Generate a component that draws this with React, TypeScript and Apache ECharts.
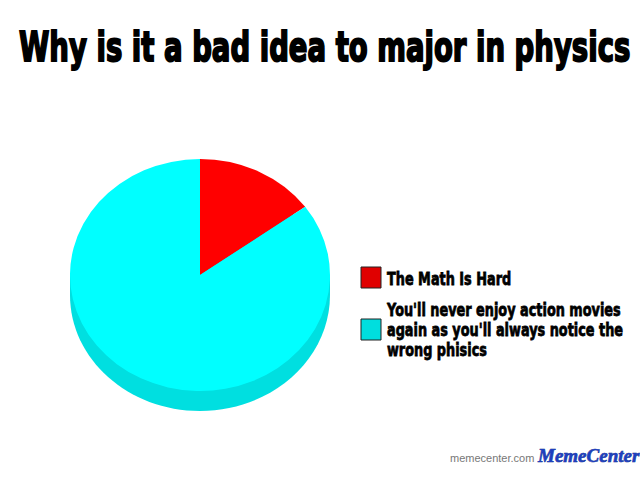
import React, { useEffect, useRef } from "react";
import * as echarts from "echarts";

const titleText = "Why is it a bad idea to major in physics";
const categories = [
  "The Math Is Hard",
  "You'll never enjoy action movies again as you'll always notice the wrong phisics",
];
const legendLines = [
  ["The Math Is Hard"],
  ["You'll never enjoy action movies", "again as you'll always notice the", "wrong phisics"],
];
const values = [15, 85];
const sliceColors = ["#ff0000", "#00ffff"];
const legendColors = ["#e00000", "#00dede"];
const sideColor = "#00dfe0";

const FAMILY = "'DejaVu Sans', 'Liberation Sans', sans-serif";

function measure(text: string, font: string): number {
  const c = document.createElement("canvas");
  const ctx = c.getContext("2d");
  if (!ctx) return text.length * 10;
  ctx.font = font;
  return ctx.measureText(text).width;
}

export default function App() {
  const ref = useRef<HTMLDivElement>(null);
  useEffect(() => {
    if (!ref.current) return;
    const chart = echarts.init(ref.current, null, { renderer: "svg" });
    const total = values.reduce((a, b) => a + b, 0);
    const cx = 200, cy = 275, rx = 130, ry = 116, depth = 20;

    const series = categories.map((name, i) => ({
      type: "custom",
      name,
      coordinateSystem: "none",
      color: legendColors[i],
      data: [values[i]],
      renderItem: (_p: any, api: any) => {
        const before = values.slice(0, i).reduce((a, b) => a + b, 0);
        const start = -Math.PI / 2 + (before / total) * Math.PI * 2;
        const end = start + (api.value(0) / total) * Math.PI * 2;
        const children: any[] = [];
        if (i === 0) {
          children.push({
            type: "ellipse",
            shape: { cx, cy: cy + depth, rx, ry },
            style: { fill: sideColor },
          });
          children.push({
            type: "rect",
            shape: { x: cx - rx, y: cy, width: rx * 2, height: depth },
            style: { fill: sideColor },
          });
        }
        children.push({
          type: "sector",
          x: cx,
          y: cy,
          scaleY: ry / rx,
          shape: { cx: 0, cy: 0, r0: 0, r: rx, startAngle: start, endAngle: end, clockwise: true },
          style: { fill: sliceColors[i] },
        });
        return { type: "group", children };
      },
    }));

    const titleFont = `bold 40px ${FAMILY}`;
    const titleScale = 611 / measure(titleText, titleFont);

    const legFont = `bold 18px ${FAMILY}`;
    const legScale = 234 / measure(legendLines[1][0], legFont);
    const legendX = 361;
    const textX = 387;
    const iconTops = [267, 319];
    const firstBaselines = [285, 316];
    const lineGap = 20;
    const legendGraphics: any[] = [];
    categories.forEach((_name, i) => {
      legendGraphics.push({
        type: "rect",
        shape: { x: legendX, y: iconTops[i], width: 20, height: 21 },
        style: { fill: legendColors[i], stroke: "#222", lineWidth: 1 },
      });
      legendLines[i].forEach((line, j) => {
        legendGraphics.push({
          type: "text",
          x: textX,
          y: firstBaselines[i] + j * lineGap - 0.346 * 18,
          scaleX: legScale,
          style: {
            text: line,
            font: legFont,
            fill: "#000",
            stroke: "#000",
            lineWidth: 0.8,
            align: "left",
            verticalAlign: "middle",
          },
        });
      });
    });

    chart.setOption({
      animation: false,
      backgroundColor: "#ffffff",
      series,
      graphic: [
        {
          type: "text",
          x: 19,
          y: 61 - 0.346 * 40,
          scaleX: titleScale,
          style: {
            text: titleText,
            font: titleFont,
            fill: "#000",
            stroke: "#000",
            lineWidth: 2,
            align: "left",
            verticalAlign: "middle",
          },
        },
        ...legendGraphics,
        {
          type: "text",
          x: 450,
          y: 458,
          style: {
            text: "memecenter.com",
            fill: "#777",
            font: "11px 'Liberation Sans', sans-serif",
            verticalAlign: "middle",
          },
        },
        {
          type: "text",
          x: 538,
          y: 455,
          style: {
            text: "MemeCenter",
            fill: "#1d3fbf",
            stroke: "#0a1f80",
            lineWidth: 0.6,
            font: "italic bold 19px 'Liberation Serif', serif",
            verticalAlign: "middle",
          },
        },
      ],
    });
    return () => chart.dispose();
  }, []);
  return (
    <div
      ref={ref}
      style={{ position: "absolute", left: 0, top: 0, width: 640, height: 492 }}
    />
  );
}
